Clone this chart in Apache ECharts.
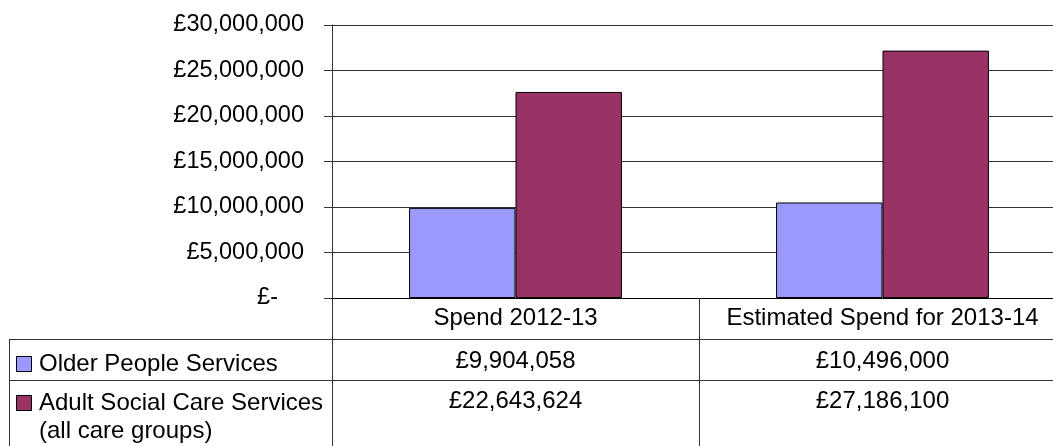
<!DOCTYPE html>
<html>
<head>
<meta charset="utf-8">
<script src="https://cdn.jsdelivr.net/npm/echarts@6/dist/echarts.min.js"></script>
<style>
html,body{margin:0;padding:0;background:#fff;}
#chart{width:1053px;height:446px;}
</style>
</head>
<body>
<div id="chart"></div>
<script>
// ---- data ----
var categories = ['Spend 2012-13', 'Estimated Spend for 2013-14'];
var seriesNames = ['Older People Services', 'Adult Social Care Services\n(all care groups)'];
var olderPeople = [9904058, 10496000];
var adultSocialCare = [22643624, 27186100];
var seriesColors = ['#9999FF', '#993366'];
var yMin = 0, yMax = 30000000, yStep = 5000000;

var FONT = '"Liberation Sans", Arial, sans-serif';
var TFS = 24;
function money(v) {
  return '£' + Math.round(v).toString().replace(/\B(?=(\d{3})+(?!\d))/g, ',');
}
var allValues = [olderPeople, adultSocialCare];

var chart = echarts.init(document.getElementById('chart'), null, {renderer: 'canvas'});

// table row headers (legend keys + names), built from series arrays
var rowCenters = [364, 403];
var graphics = [];
graphics.push({type: 'line', shape: {x1: 9, y1: 339.5, x2: 1053, y2: 339.5}, style: {stroke: '#333', lineWidth: 1}, silent: true});
graphics.push({type: 'line', shape: {x1: 9, y1: 380.5, x2: 1053, y2: 380.5}, style: {stroke: '#333', lineWidth: 1}, silent: true});
graphics.push({type: 'line', shape: {x1: 9.5, y1: 339, x2: 9.5, y2: 446}, style: {stroke: '#333', lineWidth: 1}, silent: true});
seriesNames.forEach(function (name, i) {
  graphics.push({
    type: 'rect', shape: {x: 16.5, y: rowCenters[i] - 7.5, width: 15, height: 15},
    style: {fill: seriesColors[i], stroke: '#000', lineWidth: 1}, silent: true
  });
  graphics.push({
    type: 'text', x: 39, y: rowCenters[i] - 14,
    style: {text: name, font: TFS + 'px ' + FONT, fill: '#000', lineHeight: 28, verticalAlign: 'top'},
    silent: true
  });
});

var option = {
  animation: false,
  backgroundColor: '#fff',
  grid: {left: 332, top: 25, width: 734, height: 273, containLabel: false, outerBoundsMode: 'none'},
  xAxis: {
    type: 'category',
    data: categories,
    axisLine: {show: true, lineStyle: {color: '#000', width: 1}},
    axisTick: {show: true, alignWithLabel: false, interval: 0, length: 150, lineStyle: {color: '#333', width: 1}},
    axisLabel: {
      interval: 0,
      margin: 0,
      color: '#000',
      hideOverlap: false,
      formatter: function (value, idx) {
        return '{c|' + value + '}\n{v|' + money(allValues[0][idx]) + '}\n{w|' + money(allValues[1][idx]) + '}';
      },
      rich: {
        c: {fontFamily: FONT, fontSize: TFS, lineHeight: 41, color: '#000'},
        v: {fontFamily: FONT, fontSize: TFS, lineHeight: 45, color: '#000'},
        w: {fontFamily: FONT, fontSize: TFS, lineHeight: 35, color: '#000'}
      }
    },
    splitLine: {show: false}
  },
  yAxis: {
    type: 'value',
    min: yMin, max: yMax, interval: yStep,
    axisLine: {show: true, lineStyle: {color: '#333', width: 1}},
    axisTick: {show: true, length: 8, lineStyle: {color: '#333'}},
    splitLine: {show: true, lineStyle: {color: '#333', width: 1}},
    axisLabel: {
      margin: 28,
      color: '#000',
      fontFamily: FONT,
      fontSize: 23.5,
      formatter: function (v) {
        return v === 0 ? '{z|£-}' : money(v);
      },
      rich: {
        z: {fontFamily: FONT, fontSize: 23.5, color: '#000', padding: [0, 26, 0, 0]}
      }
    }
  },
  series: [
    {
      name: seriesNames[0], type: 'bar', data: olderPeople,
      barGap: '0%', barCategoryGap: '42%',
      itemStyle: {color: seriesColors[0], borderColor: '#000', borderWidth: 1}
    },
    {
      name: seriesNames[1], type: 'bar', data: adultSocialCare,
      barGap: '0%', barCategoryGap: '42%',
      itemStyle: {color: seriesColors[1], borderColor: '#000', borderWidth: 1}
    }
  ],
  graphic: graphics
};
chart.setOption(option);
</script>
</body>
</html>
